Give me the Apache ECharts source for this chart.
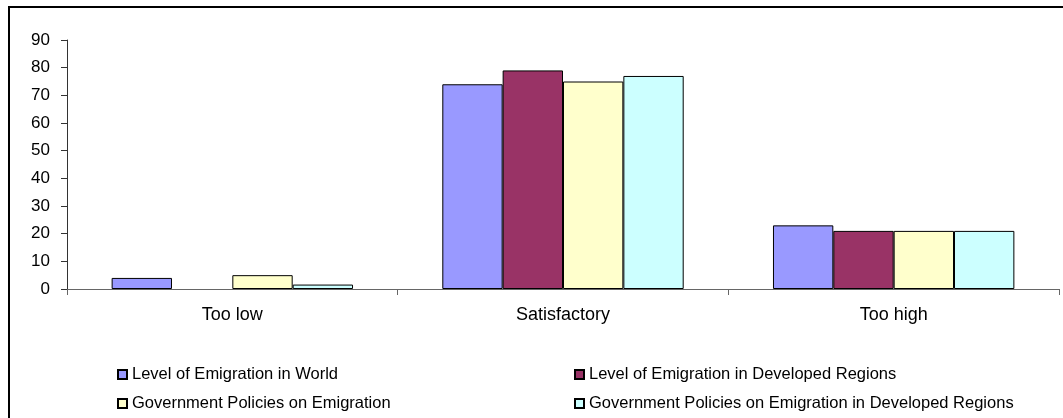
<!DOCTYPE html>
<html>
<head>
<meta charset="utf-8">
<script src="https://cdn.jsdelivr.net/npm/echarts@6/dist/echarts.min.js"></script>
<style>
html,body{margin:0;padding:0;background:#fff;}
#chart{width:1063px;height:418px;}
</style>
</head>
<body>
<div id="chart"></div>
<script>
const categories = ['Too low', 'Satisfactory', 'Too high'];
const seriesNames = [
  'Level of Emigration in World',
  'Level of Emigration in Developed Regions',
  'Government Policies on Emigration',
  'Government Policies on Emigration in Developed Regions'
];
const levelWorld = [4, 74, 23];
const levelDeveloped = [null, 79, 21];
const policiesWorld = [5, 75, 21];
const policiesDeveloped = [1.6, 77, 21];
const colors = ['#9999FF', '#993366', '#FFFFCC', '#CCFFFF'];
const yMax = 90, yInterval = 10;

const values = [levelWorld, levelDeveloped, policiesWorld, policiesDeveloped];
const font = 'Liberation Sans, Arial, sans-serif';
const legendPos = [[112, 361], [569, 361], [112, 390], [569, 390]];

const chart = echarts.init(document.getElementById('chart'), null, {renderer: 'canvas'});
chart.setOption({
  animation: false,
  backgroundColor: '#fff',
  textStyle: {fontFamily: font},
  graphic: [{
    type: 'rect',
    shape: {x: 9, y: 7, width: 1200, height: 600},
    style: {fill: null, stroke: '#000', lineWidth: 2},
    silent: true
  }],
  grid: {left: 67, right: 4, top: 40, bottom: 129, containLabel: false},
  xAxis: {
    type: 'category',
    data: categories,
    axisLine: {lineStyle: {color: '#666', width: 1}},
    axisTick: {show: true, length: 6, lineStyle: {color: '#666'}},
    axisLabel: {color: '#000', fontSize: 18, margin: 17, fontFamily: font},
    splitLine: {show: false}
  },
  yAxis: {
    type: 'value',
    min: 0, max: yMax, interval: yInterval,
    axisLine: {show: true, lineStyle: {color: '#333', width: 1}},
    axisTick: {show: true, length: 6, lineStyle: {color: '#333'}},
    axisLabel: {color: '#000', fontSize: 17, margin: 17, fontFamily: font},
    splitLine: {show: false}
  },
  legend: seriesNames.map((name, i) => ({
    data: [name],
    left: legendPos[i][0], top: legendPos[i][1],
    itemWidth: 9, itemHeight: 9,
    icon: 'rect',
    textStyle: {fontSize: 16.5, color: '#000', fontFamily: font},
    selectedMode: false
  })),
  series: seriesNames.map((name, i) => ({
    name: name,
    type: 'bar',
    data: values[i],
    barGap: '0%',
    barCategoryGap: '27%',
    itemStyle: {color: colors[i], borderColor: '#000', borderWidth: 1}
  }))
});
</script>
</body>
</html>
